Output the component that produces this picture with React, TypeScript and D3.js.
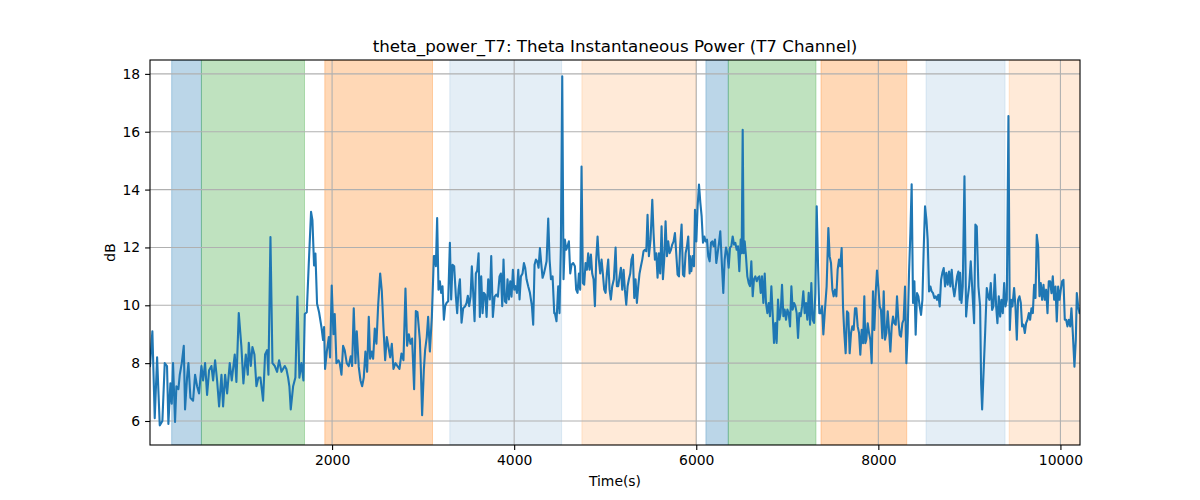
import { useEffect, useRef } from "react";
import * as d3 from "d3";

// [time (s), power (dB)], split by region
const seg1: [number, number][] = [
  [0, 7.9], [26, 9.1], [52, 6.1], [78, 8.2], [107, 5.85], [136, 6.0], [162, 8.0], [187, 7.9], [202, 5.9],
  [224, 7.3], [239, 6.6], [253, 8.0], [275, 5.97], [290, 7.2], [312, 7.1], [327, 7.6], [349, 8.0], [371, 8.6],
  [385, 6.4], [407, 7.5], [422, 8.0], [444, 6.8], [473, 6.7], [495, 7.6], [517, 7.2], [539, 6.95], [565, 7.9],
  [583, 7.4], [605, 8.0], [627, 6.9], [649, 7.75], [675, 7.9], [693, 7.4], [715, 8.1], [737, 7.4], [759, 6.5],
  [785, 7.6], [803, 6.5], [825, 7.6], [847, 6.95], [876, 8.0], [898, 7.4], [931, 8.3], [949, 7.35], [975, 9.73],
  [1004, 8.56], [1026, 7.3], [1052, 8.3], [1074, 7.6], [1085, 8.7], [1107, 7.9], [1125, 8.56], [1147, 8.3],
  [1169, 7.2], [1191, 7.5], [1213, 7.5], [1242, 6.7], [1264, 8.3], [1286, 8.45], [1301, 7.6], [1323, 12.36],
  [1345, 8.0], [1371, 7.9], [1396, 7.7], [1418, 8.1], [1444, 7.7], [1480, 7.9],
];

const seg2: [number, number][] = [
  [1498, 7.8], [1517, 7.5], [1531, 7.2], [1546, 6.4], [1572, 7.2], [1597, 7.5], [1619, 10.3], [1641, 7.5],
  [1663, 8.0], [1685, 7.4], [1700, 9.7], [1722, 9.76], [1744, 11.44], [1769, 13.23], [1784, 12.94], [1802, 11.38],
  [1817, 11.79], [1835, 10.05], [1857, 9.76], [1883, 9.25], [1901, 8.8], [1912, 9.25], [1923, 7.8], [1942, 8.4],
  [1964, 8.9], [1978, 8.2], [1996, 10.68], [2015, 9.0], [2029, 9.7], [2048, 8.0], [2070, 8.1], [2084, 8.0],
  [2103, 7.6], [2121, 8.6], [2139, 8.44], [2161, 8.0], [2183, 7.9], [2205, 8.24], [2220, 7.9], [2238, 9.9],
  [2257, 8.0], [2271, 9.1], [2293, 7.87], [2312, 7.4], [2330, 7.2], [2348, 7.5], [2366, 8.4], [2385, 7.7],
  [2403, 9.6], [2418, 8.15], [2436, 8.4], [2451, 8.15], [2469, 9.2], [2487, 8.67], [2506, 10.0], [2528, 11.1],
  [2546, 10.5], [2564, 9.25], [2583, 8.1], [2601, 8.9], [2619, 8.56], [2638, 8.2], [2656, 8.67], [2674, 7.8],
  [2696, 8.0], [2718, 7.9], [2740, 7.8], [2762, 8.33], [2784, 8.1], [2806, 10.58], [2824, 8.6], [2843, 9.0],
  [2861, 8.67], [2879, 8.85], [2901, 7.1], [2920, 9.8], [2938, 9.76], [2964, 8.8],
];

const seg3: [number, number][] = [
  [2975, 7.8], [2989, 6.2], [3008, 7.77], [3022, 8.46], [3040, 8.9], [3055, 9.6], [3074, 8.4], [3096, 9.6],
  [3118, 11.7], [3129, 11.7], [3140, 11.35], [3154, 13.02], [3169, 10.54], [3184, 10.83], [3198, 10.43],
  [3213, 10.66], [3228, 9.5], [3242, 9.97], [3257, 10.08], [3275, 10.14], [3294, 12.16], [3308, 10.2],
  [3323, 11.4], [3341, 11.35], [3360, 10.3], [3374, 9.73], [3389, 10.54], [3404, 10.9], [3422, 9.4], [3440, 9.9],
  [3462, 9.97], [3477, 10.08], [3491, 10.33], [3506, 9.97], [3521, 10.3], [3535, 11.35], [3550, 10.43],
  [3565, 9.45], [3579, 11.1], [3594, 11.2], [3609, 11.8], [3623, 9.6], [3638, 11.0], [3653, 9.73], [3667, 10.43],
  [3682, 10.37], [3697, 9.6], [3715, 10.9], [3733, 10.2], [3748, 11.7], [3766, 9.6], [3785, 10.3], [3803, 10.37],
  [3821, 10.3], [3839, 11.0], [3854, 11.1], [3869, 9.97], [3883, 11.58], [3898, 10.14], [3913, 10.08],
  [3927, 10.9], [3942, 10.2], [3957, 10.83], [3971, 10.3], [3986, 11.23], [4001, 10.54], [4015, 10.66],
  [4030, 10.43], [4045, 11.23], [4059, 10.2], [4074, 11.0], [4092, 11.1], [4107, 11.46], [4121, 11.3],
  [4136, 10.9], [4154, 10.66], [4173, 10.43], [4195, 9.97], [4209, 9.33], [4224, 11.4], [4239, 11.58],
  [4253, 11.52], [4268, 11.3], [4283, 11.98], [4297, 11.46], [4312, 10.95], [4327, 11.1], [4341, 11.3],
  [4356, 11.52], [4374, 13.0], [4389, 11.58], [4404, 10.9], [4422, 11.0], [4440, 9.73],
];

const seg4: [number, number][] = [
  [4447, 9.73], [4465, 9.45], [4484, 10.66], [4498, 9.73], [4513, 12.04], [4528, 17.92], [4542, 10.9],
  [4557, 12.27], [4572, 11.92], [4586, 12.04], [4601, 12.21], [4616, 11.1], [4630, 11.4], [4648, 11.46],
  [4667, 11.35], [4681, 10.54], [4696, 10.43], [4711, 11.1], [4725, 10.54], [4740, 14.8], [4755, 10.77],
  [4769, 10.71], [4784, 11.46], [4799, 11.23], [4813, 11.8], [4828, 11.23], [4843, 11.75], [4857, 11.1],
  [4872, 10.9], [4887, 9.97], [4901, 11.58], [4916, 12.38], [4930, 11.58], [4945, 11.1], [4960, 11.58],
  [4974, 11.1], [4989, 10.54], [5004, 10.43], [5018, 11.1], [5033, 11.58], [5048, 10.54], [5062, 10.2],
  [5077, 10.66], [5095, 10.9], [5114, 12.0], [5128, 10.66], [5143, 10.66], [5158, 11.0], [5172, 11.3],
  [5187, 10.54], [5202, 11.23], [5216, 10.54], [5231, 10.02], [5246, 10.66], [5260, 10.9], [5275, 11.1],
  [5289, 11.58], [5304, 11.75], [5319, 10.25], [5333, 10.9], [5348, 10.08], [5363, 10.66], [5377, 11.1],
  [5392, 11.35], [5407, 11.58], [5421, 11.87], [5436, 11.92], [5451, 11.87], [5465, 13.13], [5480, 11.7],
  [5498, 12.27], [5517, 13.65], [5531, 12.5], [5546, 11.58], [5561, 11.8], [5575, 10.95], [5590, 11.8],
  [5604, 11.1], [5619, 12.73], [5634, 10.9], [5648, 11.58], [5663, 12.9], [5678, 11.7], [5692, 12.21],
  [5707, 11.8], [5722, 11.92], [5736, 12.1], [5751, 12.21], [5766, 12.5], [5780, 11.8], [5795, 11.06],
  [5810, 11.0], [5824, 12.1], [5839, 12.79], [5854, 11.06], [5868, 11.0], [5883, 11.8], [5898, 12.04],
  [5912, 12.38], [5927, 11.1],
];

const seg5: [number, number][] = [
  [5931, 11.7], [5946, 11.18], [5960, 11.7], [5975, 11.35], [5986, 13.3], [6001, 12.21], [6015, 13.42],
  [6030, 14.17], [6045, 13.54], [6059, 13.08], [6074, 12.16], [6089, 12.38], [6103, 12.21], [6118, 12.27],
  [6132, 11.7], [6147, 11.52], [6162, 12.16], [6176, 12.21], [6191, 12.04], [6206, 12.27], [6220, 11.46],
  [6235, 11.8], [6250, 12.16], [6264, 12.56], [6279, 11.58], [6297, 10.43], [6312, 11.58], [6327, 12.0],
  [6341, 11.8], [6356, 11.3], [6371, 12.0], [6385, 12.04], [6400, 12.38], [6415, 12.1], [6429, 12.16],
  [6444, 11.92], [6458, 12.04], [6473, 11.18], [6488, 12.27], [6499, 11.8], [6510, 16.07], [6521, 11.8],
  [6532, 12.21], [6546, 11.7], [6561, 11.0], [6576, 10.77], [6590, 10.66], [6605, 11.52], [6620, 10.31],
  [6634, 10.9], [6649, 11.0], [6664, 10.83], [6678, 10.95], [6693, 11.0], [6708, 10.43], [6722, 11.0],
  [6737, 10.08], [6752, 11.1], [6766, 10.08], [6781, 9.73], [6796, 10.08], [6810, 9.62], [6825, 10.66],
  [6839, 9.73], [6854, 8.7], [6869, 9.39], [6883, 8.7], [6898, 10.2], [6913, 9.5], [6927, 9.73], [6942, 10.71],
  [6957, 9.62], [6971, 9.85], [6986, 9.5], [7001, 9.85], [7015, 9.73], [7030, 9.27], [7045, 10.66],
  [7059, 9.85], [7074, 10.08], [7089, 9.97], [7103, 9.73], [7118, 8.87], [7132, 9.73], [7147, 9.62],
  [7162, 9.97], [7176, 10.48], [7191, 9.73], [7206, 10.08], [7220, 9.5], [7235, 10.43], [7250, 9.33],
  [7264, 10.77], [7279, 9.5], [7294, 9.39], [7308, 10.43], [7323, 13.42], [7338, 11.35], [7352, 9.73],
  [7367, 9.73], [7382, 9.97], [7396, 8.99], [7411, 9.73],
];

const seg6: [number, number][] = [
  [7432, 10.65], [7451, 12.67], [7465, 11.69], [7480, 11.46], [7495, 10.54], [7509, 10.31], [7524, 10.54],
  [7539, 10.31], [7553, 11.23], [7568, 11.58], [7582, 11.35], [7597, 11.98], [7612, 9.96], [7626, 9.04],
  [7641, 8.34], [7656, 9.79], [7670, 9.73], [7685, 8.34], [7700, 9.04], [7714, 9.27], [7729, 9.15],
  [7744, 9.9], [7758, 9.9], [7773, 9.27], [7788, 9.04], [7802, 8.29], [7817, 9.15], [7832, 8.69],
  [7846, 10.31], [7857, 8.69], [7868, 8.81], [7883, 9.38], [7898, 9.04], [7912, 8.81], [7927, 8.0],
  [7941, 10.48], [7956, 9.15], [7971, 10.42], [7985, 11.2], [8000, 10.65], [8015, 9.96], [8029, 9.84],
  [8044, 8.86], [8059, 10.48], [8073, 8.81], [8088, 9.04], [8103, 9.79], [8117, 9.15], [8132, 8.4],
  [8147, 9.27], [8161, 9.61], [8176, 9.38], [8191, 9.33], [8205, 10.31], [8220, 9.5], [8235, 8.98],
  [8249, 8.92], [8264, 9.38], [8278, 9.5], [8293, 10.65], [8308, 8.0], [8322, 9.04], [8337, 11.12],
  [8352, 12.5], [8366, 14.18], [8381, 10.08], [8396, 10.83], [8410, 8.98], [8425, 10.42], [8440, 10.31],
  [8454, 9.96], [8469, 9.67], [8484, 10.19], [8498, 11.92], [8513, 13.42], [8528, 12.96], [8542, 12.27],
  [8557, 10.48], [8572, 10.65], [8586, 10.48], [8601, 10.42], [8615, 10.25], [8630, 10.31], [8645, 10.19],
  [8659, 10.36], [8674, 9.96], [8689, 10.88], [8703, 11.12], [8718, 11.29], [8733, 10.65], [8747, 11.12],
  [8762, 10.71], [8777, 11.17], [8791, 10.65], [8806, 11.23], [8821, 10.6], [8835, 10.31], [8850, 10.65],
  [8865, 11.0], [8879, 11.17], [8894, 10.19],
];

const seg7: [number, number][] = [
  [8898, 11.12], [8913, 10.08], [8927, 10.65], [8946, 14.46], [8964, 9.61], [8979, 10.19], [8997, 10.65],
  [9015, 11.52], [9034, 10.42], [9052, 9.38], [9066, 12.79], [9081, 12.73], [9099, 10.65], [9118, 9.96],
  [9129, 7.3], [9140, 6.4], [9151, 7.3], [9173, 9.04], [9191, 10.6], [9206, 10.31], [9220, 10.19],
  [9235, 10.77], [9250, 9.84], [9264, 9.96], [9279, 11.06], [9294, 9.96], [9308, 9.38], [9323, 10.31],
  [9338, 9.61], [9352, 10.19], [9367, 9.73], [9382, 10.77], [9396, 9.96], [9411, 10.19], [9429, 16.54],
  [9444, 9.15], [9458, 10.19], [9473, 9.96], [9491, 10.6], [9506, 9.96], [9521, 8.81], [9535, 10.19],
  [9550, 10.31], [9565, 10.08], [9579, 9.27], [9594, 9.33], [9609, 9.04], [9623, 9.38], [9638, 9.5],
  [9653, 9.73], [9667, 9.5], [9682, 9.9], [9697, 9.73], [9711, 10.71], [9726, 10.25], [9740, 12.44],
  [9755, 12.04], [9770, 10.31], [9784, 10.77], [9799, 10.19], [9814, 10.71], [9828, 10.19], [9843, 10.54],
  [9858, 9.73], [9872, 10.83], [9887, 10.83], [9902, 10.42], [9916, 11.0], [9931, 10.19], [9946, 10.65],
  [9960, 9.44], [9975, 10.65], [9990, 10.19], [10004, 10.54], [10019, 10.83], [10033, 10.88], [10048, 9.5],
  [10063, 9.5], [10077, 9.27], [10092, 9.5], [10107, 9.27], [10121, 9.9], [10136, 9.04], [10154, 7.88],
  [10169, 8.81], [10180, 10.42], [10195, 9.96], [10209, 9.73], [10215, 9.8],
];

// shaded phases (axvspan)
const spanStart = [238, 565, 1920, 3293, 4744, 6106, 6352, 7370, 8524, 9437];
const spanEnd = [565, 1697, 3103, 4521, 5996, 6352, 7315, 8312, 9392, 10300];
const spanColor = ["#1f77b4", "#2ca02c", "#ff7f0e", "#1f77b4", "#ff7f0e", "#1f77b4", "#2ca02c", "#ff7f0e", "#1f77b4", "#ff7f0e"];
const spanAlpha = [0.3, 0.3, 0.3, 0.12, 0.16, 0.3, 0.3, 0.3, 0.12, 0.16];

const xTicks = [2000, 4000, 6000, 8000, 10000];
const yTicks = [6, 8, 10, 12, 14, 16, 18];

export default function App() {
  const ref = useRef<SVGSVGElement>(null);

  useEffect(() => {
    if (!ref.current) return;
    const width = 1200;
    const height = 500;
    const m = { left: 150, right: 1080, top: 60, bottom: 445 };
    const font = "DejaVu Sans, sans-serif";

    const data = [...seg1, ...seg2, ...seg3, ...seg4, ...seg5, ...seg6, ...seg7];

    const x = d3.scaleLinear().domain(d3.extent(data, (d) => d[0]) as [number, number]).range([m.left, m.right]);
    const y = d3.scaleLinear().domain([5.17, 18.48]).range([m.bottom, m.top]);

    const svg = d3.select(ref.current);
    svg.selectAll("*").remove();
    svg.attr("width", width).attr("height", height);
    svg.append("rect").attr("width", width).attr("height", height).attr("fill", "#fff");

    svg.append("defs").append("clipPath").attr("id", "plot-clip")
      .append("rect").attr("x", m.left).attr("y", m.top)
      .attr("width", m.right - m.left).attr("height", m.bottom - m.top);

    const plot = svg.append("g").attr("clip-path", "url(#plot-clip)");

    plot.selectAll(".span")
      .data(spanStart.map((s, i) => ({ s, e: spanEnd[i], c: spanColor[i], a: spanAlpha[i] })))
      .enter()
      .append("rect")
      .attr("x", (d) => x(d.s))
      .attr("y", m.top)
      .attr("width", (d) => x(d.e) - x(d.s))
      .attr("height", m.bottom - m.top)
      .attr("fill", (d) => d.c)
      .attr("fill-opacity", (d) => d.a)
      .attr("stroke", (d) => d.c)
      .attr("stroke-opacity", (d) => d.a)
      .attr("stroke-width", 1);

    // grid
    plot.selectAll(".gx").data(xTicks).enter().append("line")
      .attr("x1", (d) => x(d)).attr("x2", (d) => x(d))
      .attr("y1", m.top).attr("y2", m.bottom)
      .attr("stroke", "#b0b0b0").attr("stroke-width", 1.1);
    plot.selectAll(".gy").data(yTicks).enter().append("line")
      .attr("x1", m.left).attr("x2", m.right)
      .attr("y1", (d) => y(d)).attr("y2", (d) => y(d))
      .attr("stroke", "#b0b0b0").attr("stroke-width", 1.1);

    const line = d3.line<[number, number]>().x((d) => x(d[0])).y((d) => y(d[1]));
    plot.append("path")
      .attr("d", line(data))
      .attr("fill", "none")
      .attr("stroke", "#1f77b4")
      .attr("stroke-width", 2.1)
      .attr("stroke-linejoin", "round")
      .attr("stroke-linecap", "square");

    // axes
    const xAxis = d3.axisBottom(x).tickValues(xTicks).tickSize(4.9).tickPadding(4.9).tickFormat(d3.format("d"));
    const yAxis = d3.axisLeft(y).tickValues(yTicks).tickSize(4.9).tickPadding(4.9).tickFormat(d3.format("d"));

    const gx = svg.append("g").attr("transform", `translate(0,${m.bottom})`).call(xAxis);
    const gy = svg.append("g").attr("transform", `translate(${m.left},0)`).call(yAxis);
    for (const g of [gx, gy]) {
      g.select(".domain").remove();
      g.selectAll(".tick line").attr("stroke", "#000").attr("stroke-width", 1.1);
      g.selectAll(".tick text").attr("fill", "#000").attr("font-family", font).attr("font-size", 13.9);
    }

    svg.append("rect")
      .attr("x", m.left).attr("y", m.top)
      .attr("width", m.right - m.left).attr("height", m.bottom - m.top)
      .attr("fill", "none").attr("stroke", "#000").attr("stroke-width", 1.1);

    svg.append("text")
      .attr("x", (m.left + m.right) / 2).attr("y", 52)
      .attr("text-anchor", "middle")
      .attr("font-family", font).attr("font-size", 16.7)
      .text("theta_power_T7: Theta Instantaneous Power (T7 Channel)");

    svg.append("text")
      .attr("x", (m.left + m.right) / 2).attr("y", 486)
      .attr("text-anchor", "middle")
      .attr("font-family", font).attr("font-size", 13.9)
      .text("Time(s)");

    svg.append("text")
      .attr("transform", `translate(115,${(m.top + m.bottom) / 2}) rotate(-90)`)
      .attr("text-anchor", "middle")
      .attr("font-family", font).attr("font-size", 13.9)
      .text("dB");
  }, []);

  return <svg ref={ref} style={{ position: "absolute", left: 0, top: 0, display: "block" }} />;
}
